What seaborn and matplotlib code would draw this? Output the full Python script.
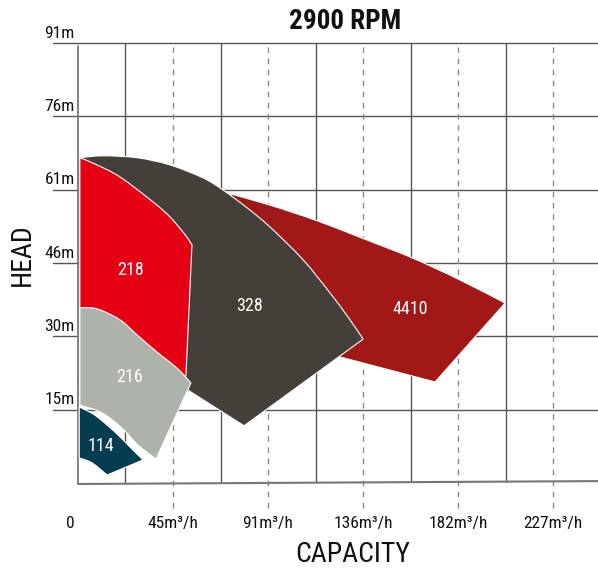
import matplotlib
matplotlib.use("Agg")
import matplotlib.pyplot as plt
import matplotlib.font_manager as fm
from matplotlib.path import Path
from matplotlib.patches import PathPatch
import numpy as np
import seaborn as sns

# ---- data (capacity in m³/h, head in m) ----
x_tick_vals = [45.42, 90.85, 136.27, 181.7, 227.12]
x_tick_labels = ["45m³/h", "91m³/h", "136m³/h", "182m³/h", "227m³/h"]
x_minor_vals = [22.71, 68.14, 113.56, 158.99, 204.41]
y_tick_vals = [15.24, 30.48, 45.72, 60.96, 76.2, 91.44]
y_tick_labels = ["15m", "30m", "46m", "61m", "76m", "91m"]

models = ["4410", "328", "218", "216", "114"]
colors = ["#a11816", "#453f39", "#e60013", "#adb2ab", "#033d4f"]

cap_4410 = [72.7, 91.8, 114.3, 136.3, 159.7, 182.6, 204.2, 170.7, 125.3, 106.1]
head_4410 = [60.1, 57.75, 54.5, 50.8, 46.8, 42.2, 37.4, 21.0, 26.2, 28.7]
corners_4410 = [0, 6, 7, 8, 9]

cap_328 = [0.9, 11.9, 28.2, 44.0, 59.8, 69.3, 80.8, 91.8, 107.6, 120.5, 129.1, 136.3, 79.4, 52.6, 34.4, 0.9]
head_328 = [67.6, 68.0, 67.6, 66.1, 63.4, 60.9, 57.2, 53.2, 46.4, 39.5, 34.5, 29.9, 11.9, 19.3, 21.0, 21.0]
corners_328 = [0, 11, 12, 13, 14, 15]

cap_218 = [0.9, 8.1, 20.1, 35.9, 44.0, 51.2, 54.5, 51.6, 34.4, 0.9]
head_218 = [67.6, 66.3, 63.6, 58.4, 55.3, 51.6, 49.5, 22.2, 21.4, 21.4]
corners_218 = [0, 6, 7, 8, 9]

cap_216 = [0.9, 9.1, 20.1, 28.2, 37.8, 47.3, 54.0, 37.3, 28.7, 21.0, 11.5, 0.9]
head_216 = [36.4, 36.2, 33.9, 30.8, 27.2, 23.9, 20.8, 5.0, 7.9, 11.4, 14.6, 16.2]
corners_216 = [0, 6, 7, 11]

cap_114 = [0.6, 8.1, 17.7, 23.9, 31.1, 13.9, 6.7, 0.6]
head_114 = [15.8, 14.1, 10.6, 7.9, 4.8, 1.66, 4.2, 5.2]
corners_114 = [0, 4, 5, 7]

label_cap = [158.7, 81.8, 25.3, 24.4, 11.0]
label_head = [36.2, 36.8, 44.3, 22.0, 7.7]

shapes = {
    "4410": (cap_4410, head_4410, corners_4410),
    "328": (cap_328, head_328, corners_328),
    "218": (cap_218, head_218, corners_218),
    "216": (cap_216, head_216, corners_216),
    "114": (cap_114, head_114, corners_114),
}


def region_path(xs, ys, corners):
    """Closed path: straight edges between adjacent corners, smooth
    Catmull-Rom (as cubic Bezier) through the points between corners."""
    P = np.column_stack([xs, ys]).astype(float)
    n = len(P)
    verts = [P[0]]
    codes = [Path.MOVETO]
    cs = list(corners) + [n]
    for a, b in zip(cs[:-1], cs[1:]):
        pts = [P[i % n] for i in range(a, b + 1)]
        if len(pts) == 2:
            verts.append(pts[1])
            codes.append(Path.LINETO)
            continue
        m = len(pts)
        for k in range(m - 1):
            p0 = pts[k - 1] if k > 0 else pts[k]
            p1 = pts[k]
            p2 = pts[k + 1]
            p3 = pts[k + 2] if k + 2 < m else pts[k + 1]
            c1 = p1 + (p2 - p0) / 6.0
            c2 = p2 - (p3 - p1) / 6.0
            verts += [c1, c2, p2]
            codes += [Path.CURVE4] * 3
    verts.append(P[0])
    codes.append(Path.CLOSEPOLY)
    return Path(np.array(verts), codes)


# ---- style ----
sns.set_theme(style="white")
names = {f.name for f in fm.fontManager.ttflist}
fam = None
for cand in ["Roboto Condensed", "Liberation Sans Narrow", "DejaVu Sans Condensed", "Open Sans Condensed"]:
    if cand in names:
        fam = cand
        break
stretch = "normal"
if fam is None:
    fam = "DejaVu Sans"
    stretch = "condensed"
plt.rcParams["font.family"] = [fam, "DejaVu Sans"]
plt.rcParams["font.stretch"] = stretch

fig = plt.figure(figsize=(5.98, 5.68), dpi=100)
ax = fig.add_axes([0.1304, 0.1496, 0.8696, 0.7747])
xmax = 248.6
ax.set_xlim(0, xmax)
ax.set_ylim(0, 91.44)
ax.axis("off")

grid_c = "#555553"
dash_c = "#8a8a88"
tick_fs = 12.5
for y, lab in zip(y_tick_vals, y_tick_labels):
    ax.plot([-12, xmax], [y, y], color=grid_c, lw=1.0, clip_on=False, zorder=1)
    ax.text(-1.6, y + 0.5, lab, ha="right", va="bottom", fontsize=tick_fs,
            color="#111111", stretch=stretch)
for x in x_minor_vals:
    ax.plot([x, x], [0, 91.44], color=grid_c, lw=1.0, zorder=1)
for x, lab in zip(x_tick_vals, x_tick_labels):
    ax.plot([x, x], [-5.2, 91.44], color=dash_c, lw=1.0, ls=(0, (4, 4)),
            clip_on=False, zorder=1)
    ax.text(x, -8.4, lab, ha="center", va="center", fontsize=tick_fs,
            color="#111111", stretch=stretch)
ax.text(-3.8, -8.4, "0", ha="center", va="center", fontsize=tick_fs,
        color="#111111", stretch=stretch)
ax.plot([0, 0], [0, 90.8], color="#777777", lw=1.3, clip_on=False, zorder=1)
ax.plot([0, xmax], [-0.2, 0.4], color="#777777", lw=1.5, clip_on=False, zorder=1)

for i, (m, c) in enumerate(zip(models, colors)):
    xs, ys, cn = shapes[m]
    patch = PathPatch(region_path(xs, ys, cn), facecolor=c, edgecolor="white",
                      lw=0.8, zorder=2 + i, joinstyle="miter")
    ax.add_patch(patch)
for m, x, y in zip(models, label_cap, label_head):
    ax.text(x, y, m, ha="center", va="center", color="white", fontsize=13,
            zorder=10, stretch=stretch)

fig.text(0.577, 0.963, "2900 RPM", ha="center", va="center", fontsize=19.5,
         fontweight="bold", color="#111111", stretch=stretch)
fig.text(0.038, 0.551, "HEAD", ha="center", va="center", rotation=90,
         fontsize=20, color="#111111", stretch=stretch)
fig.text(0.589, 0.024, "CAPACITY", ha="center", va="center", fontsize=20,
         color="#111111", stretch=stretch)

fig.savefig("out.png", dpi=100)
